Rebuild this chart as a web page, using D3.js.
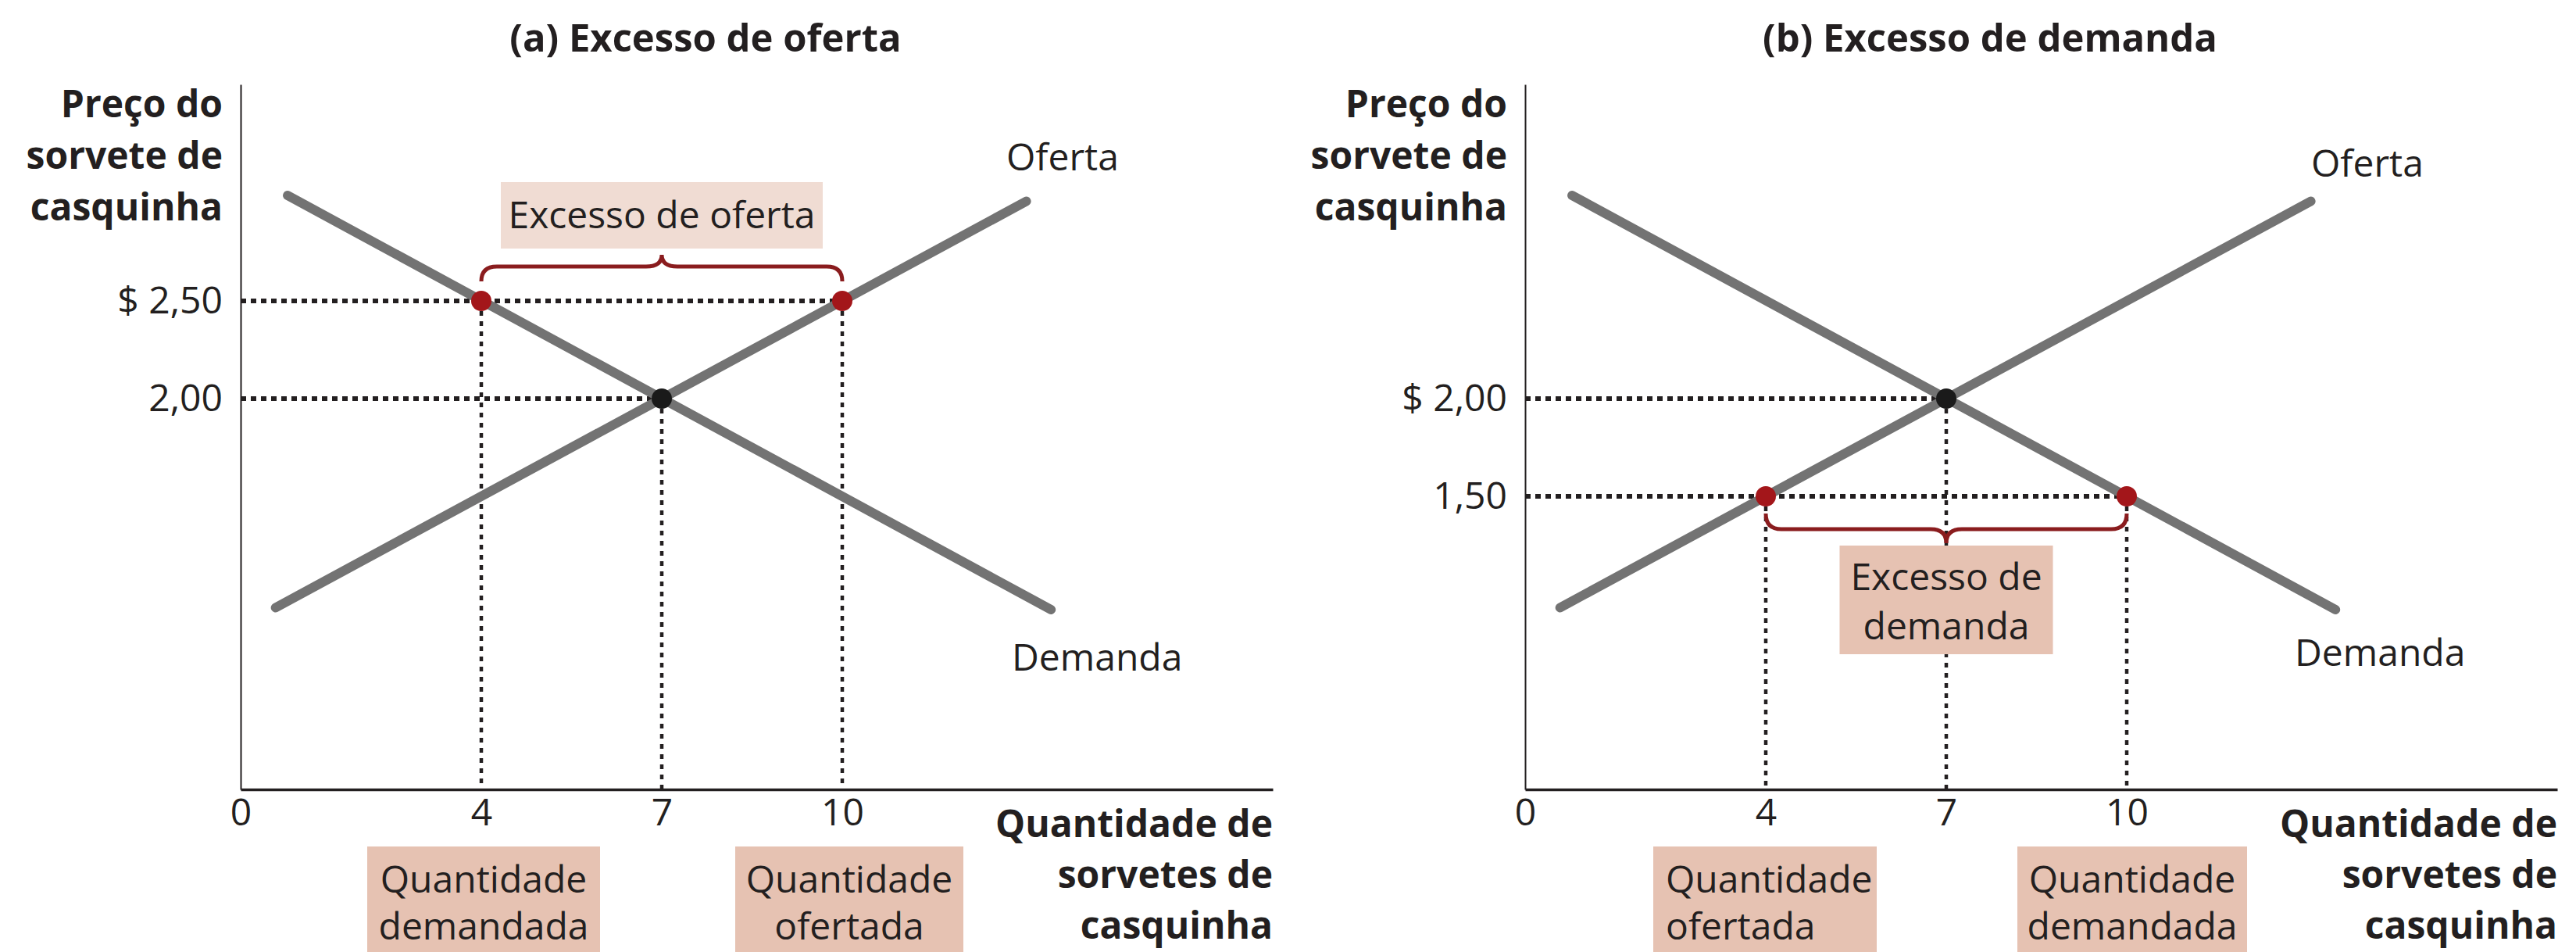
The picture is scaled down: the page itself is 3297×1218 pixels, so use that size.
<!DOCTYPE html>
<html>
<head>
<meta charset="utf-8">
<script src="https://cdn.jsdelivr.net/npm/d3@7"></script>
<style>
  body { margin: 0; background: #fff; }
  svg { display: block; font-family: "Open Sans", "Noto Sans", sans-serif; }
  .tick text { fill: #231f20; }
</style>
</head>
<body>
<div id="chart"></div>
<script>
//DATA
const quantityTicks = [0, 4, 7, 10];
const priceTicksA = [2.5, 2.0];
const priceLabelsA = ["$ 2,50", "2,00"];
const priceTicksB = [2.0, 1.5];
const priceLabelsB = ["$ 2,00", "1,50"];

// end points of the two curves, [quantity, price]
const demandCurve = [[0.78, 3.04], [13.47, 0.92]];
const supplyCurve = [[0.58, 0.93], [13.06, 3.01]];

const equilibrium = [7, 2.0];
const pointsA = [[4, 2.5], [10, 2.5]];   // excess supply price
const pointsB = [[4, 1.5], [10, 1.5]];   // excess demand price

const titles = ["(a) Excesso de oferta", "(b) Excesso de demanda"];
const yLabel = ["Preço do", "sorvete de", "casquinha"];
const xLabel = ["Quantidade de", "sorvetes  de", "casquinha"];
const gapLabelA = ["Excesso de oferta"];
const gapLabelB = ["Excesso de", "demanda"];
const qtyLabelsA = [["Quantidade", "demandada"], ["Quantidade", "ofertada"]];
const qtyLabelsB = [["Quantidade", "ofertada"], ["Quantidade", "demandada"]];

//CONFIG
const width = 3297, height = 1218;
const plotW = 1321, plotH = 902;
const ink = "#231f20";
const curveColor = "#737373";
const red = "#a3161a";
const braceColor = "#8a1c1e";
const lightBox = "#f0dcd3";
const darkBox = "#e6c2b2";

const svg = d3.select("#chart")
  .append("svg")
  .attr("width", width)
  .attr("height", height);

const x = d3.scaleLinear().domain([0, plotW / 77]).range([0, plotW]);
const y = d3.scaleLinear().domain([0, plotH / 250]).range([plotH, 0]);

// curly brace between x1 and x2, tips at yt, bar at yl, point at yp
function bracePath(x1, x2, yt, yl, yp) {
  const r = 20, xm = (x1 + x2) / 2;
  return "M" + x1 + "," + yt +
    "Q" + x1 + "," + yl + " " + (x1 + r) + "," + yl +
    "L" + (xm - r) + "," + yl +
    "Q" + xm + "," + yl + " " + xm + "," + yp +
    "Q" + xm + "," + yl + " " + (xm + r) + "," + yl +
    "L" + (x2 - r) + "," + yl +
    "Q" + x2 + "," + yl + " " + x2 + "," + yt;
}

function multiLine(g, lines, xPos, yPos, lineH, anchor, weight) {
  g.append("text")
    .attr("text-anchor", anchor)
    .attr("font-size", 48)
    .attr("font-weight", weight)
    .attr("fill", ink)
    .selectAll("tspan")
    .data(lines)
    .enter()
    .append("tspan")
    .attr("x", xPos)
    .attr("y", function(d, i) { return yPos + i * lineH; })
    .text(function(d) { return d; });
}

function drawPanel(cfg) {
  const g = svg.append("g")
    .attr("transform", "translate(" + cfg.left + "," + 108 + ")");

  // title
  g.append("text")
    .attr("x", 595).attr("y", -42)
    .attr("text-anchor", "middle")
    .attr("font-size", 49)
    .attr("font-weight", 700)
    .attr("fill", ink)
    .text(cfg.title);

  // axes
  const xAxis = g.append("g")
    .attr("transform", "translate(0," + plotH + ")")
    .call(d3.axisBottom(x).tickValues(quantityTicks).tickSize(0).tickSizeOuter(0).tickPadding(12));
  xAxis.select(".domain").attr("stroke", ink).attr("stroke-width", 3.5);
  xAxis.selectAll("text").attr("font-size", 48).attr("font-family", "Open Sans").attr("font-weight", 400);

  const yAxis = g.append("g")
    .call(d3.axisLeft(y).tickValues(cfg.priceTicks)
      .tickFormat(function(d, i) { return cfg.priceLabels[i]; })
      .tickSize(0).tickSizeOuter(0).tickPadding(23));
  yAxis.select(".domain").attr("stroke", ink).attr("stroke-width", 2);
  yAxis.selectAll("text").attr("font-size", 48).attr("font-family", "Open Sans").attr("font-weight", 400);

  // axis titles
  multiLine(g, yLabel, -23, 42, 66, "end", 700);
  multiLine(g, xLabel, plotW, 963, 65, "end", 700);

  // dotted guides: horizontal from axis to the points, vertical down to the axis
  const guides = [equilibrium].concat(cfg.points);
  g.selectAll(".hguide")
    .data(guides)
    .enter()
    .append("line")
    .attr("x1", 0).attr("x2", function(d) { return x(d[0]); })
    .attr("y1", function(d) { return y(d[1]); }).attr("y2", function(d) { return y(d[1]); })
    .attr("stroke", ink).attr("stroke-width", 6).attr("stroke-dasharray", "7,6");
  g.selectAll(".vguide")
    .data(guides)
    .enter()
    .append("line")
    .attr("x1", function(d) { return x(d[0]); }).attr("x2", function(d) { return x(d[0]); })
    .attr("y1", function(d) { return y(d[1]); }).attr("y2", plotH)
    .attr("stroke", ink).attr("stroke-width", 4.5).attr("stroke-dasharray", "6,7");

  // supply and demand
  const line = d3.line().x(function(d) { return x(d[0]); }).y(function(d) { return y(d[1]); });
  g.selectAll(".curve")
    .data([demandCurve, supplyCurve])
    .enter()
    .append("path")
    .attr("d", line)
    .attr("fill", "none")
    .attr("stroke", curveColor)
    .attr("stroke-width", 12)
    .attr("stroke-linecap", "round");

  g.append("text").attr("x", cfg.ofertaPos[0]).attr("y", cfg.ofertaPos[1])
    .attr("font-size", 48).attr("fill", ink).text("Oferta");
  g.append("text").attr("x", cfg.demandaPos[0]).attr("y", cfg.demandaPos[1])
    .attr("font-size", 48).attr("fill", ink).text("Demanda");

  // label of the gap between the two quantities
  const gb = cfg.gapBox;
  g.append("rect")
    .attr("x", x(7) - gb.w / 2).attr("y", gb.top)
    .attr("width", gb.w).attr("height", gb.h)
    .attr("fill", gb.fill);
  multiLine(g, cfg.gapLabel, x(7), gb.top + gb.base, 63, "middle", 400);

  // brace
  const p = cfg.points[0];
  const yp = y(p[1]);
  g.append("path")
    .attr("d", bracePath(x(cfg.points[0][0]), x(cfg.points[1][0]),
      yp + cfg.brace[0], yp + cfg.brace[1], yp + cfg.brace[2]))
    .attr("fill", "none")
    .attr("stroke", braceColor)
    .attr("stroke-width", 5);

  // quantity boxes under the axis
  cfg.qtyBoxes.forEach(function(b, i) {
    const cx = x(cfg.points[i][0]) + b.dx;
    g.append("rect")
      .attr("x", cx - b.w / 2).attr("y", 975)
      .attr("width", b.w).attr("height", 140)
      .attr("fill", darkBox);
    if (b.align === "start") {
      multiLine(g, cfg.qtyLabels[i], cx - b.w / 2 + 16, 1034, 60, "start", 400);
    } else {
      multiLine(g, cfg.qtyLabels[i], cx, 1034, 60, "middle", 400);
    }
  });

  // points
  g.selectAll(".pt")
    .data(cfg.points)
    .enter()
    .append("circle")
    .attr("cx", function(d) { return x(d[0]); })
    .attr("cy", function(d) { return y(d[1]); })
    .attr("r", 13)
    .attr("fill", red);
  g.append("circle")
    .attr("cx", x(equilibrium[0])).attr("cy", y(equilibrium[1]))
    .attr("r", 13).attr("fill", "#1a1a1a");
}

drawPanel({
  left: 308,
  title: titles[0],
  priceTicks: priceTicksA,
  priceLabels: priceLabelsA,
  points: pointsA,
  gapLabel: gapLabelA,
  gapBox: {top: 125, w: 412, h: 85, base: 59, fill: lightBox},
  brace: [-25, -44, -59],
  qtyLabels: qtyLabelsA,
  qtyBoxes: [{dx: 3, w: 298, align: "middle"}, {dx: 9, w: 292, align: "middle"}],
  ofertaPos: [980, 110],
  demandaPos: [987, 750]
});

drawPanel({
  left: 1952,
  title: titles[1],
  priceTicks: priceTicksB,
  priceLabels: priceLabelsB,
  points: pointsB,
  gapLabel: gapLabelB,
  gapBox: {top: 590, w: 273, h: 139, base: 57, fill: darkBox},
  brace: [22, 42, 60],
  qtyLabels: qtyLabelsB,
  qtyBoxes: [{dx: -1, w: 286, align: "start"}, {dx: 7, w: 294, align: "middle"}],
  ofertaPos: [1006, 118],
  demandaPos: [985, 744]
});
</script>
</body>
</html>
